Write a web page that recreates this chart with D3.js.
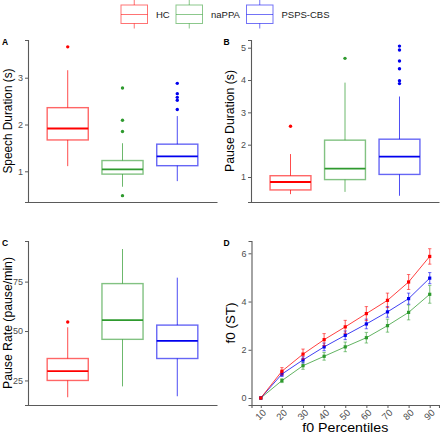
<!DOCTYPE html>
<html><head><meta charset="utf-8">
<script src="https://cdn.jsdelivr.net/npm/d3@7"></script>
<style>
body{margin:0;background:#fff;}
svg{display:block;font-family:"Liberation Sans",Arial,sans-serif;}
</style></head>
<body><svg id="c" width="440" height="433"></svg>
<script>
// ---- data ----
const groups = ["HC", "naPPA", "PSPS-CBS"];
const groupColors = ["#ff0000", "#2e9a2e", "#0000ee"];

// box stats per group: [lower whisker, Q1, median, Q3, upper whisker]
const speechBox = [[1.11, 1.67, 1.915, 2.36, 3.16], [0.67, 0.94, 1.04, 1.23, 1.60], [0.79, 1.12, 1.32, 1.58, 2.18]];
const speechOutliers = [[3.66], [2.78, 2.09, 1.85, 0.48], [2.88, 2.66, 2.58, 2.52, 2.32]];
const speechTicks = [1, 2, 3];

const pauseDurBox = [[0.47, 0.60, 0.845, 1.04, 1.71], [0.54, 0.92, 1.26, 2.14, 3.92], [0.42, 1.08, 1.63, 2.17, 3.49]];
const pauseDurOutliers = [[2.57], [4.67], [5.05, 4.93, 4.59, 4.35, 3.98, 3.89]];
const pauseDurTicks = [1, 2, 3, 4, 5];

const pauseRateBox = [[16.5, 25, 29.7, 36.1, 51.9], [22, 45.8, 55.5, 74, 91.5], [17, 36.1, 45, 53, 77]];
const pauseRateOutliers = [[54.6], [], []];
const pauseRateTicks = [25, 50, 75];

const percentiles = [10, 20, 30, 40, 50, 60, 70, 80, 90];
const f0HC = [0, 1.11, 1.82, 2.42, 2.95, 3.50, 4.05, 4.81, 5.87];
const f0naPPA = [0, 0.72, 1.34, 1.73, 2.12, 2.50, 3.00, 3.55, 4.30];
const f0PSPS = [0, 0.99, 1.58, 2.12, 2.60, 3.07, 3.57, 4.12, 4.97];
const f0HCerr = [0, 0.15, 0.21, 0.25, 0.27, 0.29, 0.30, 0.31, 0.32];
const f0naPPAerr = [0, 0.08, 0.15, 0.16, 0.20, 0.22, 0.27, 0.31, 0.37];
const f0PSPSerr = [0, 0.10, 0.13, 0.16, 0.18, 0.20, 0.22, 0.23, 0.23];
const f0Ticks = [0, 2, 4, 6];

// ---- drawing ----
const svg = d3.select("#c");
const axisColor = "#5a5a5a", tickText = "#4d4d4d";

function styleAxis(g) {
  g.select(".domain").attr("stroke", axisColor).attr("stroke-width", 1.1);
  g.selectAll(".tick line").attr("stroke", axisColor);
  g.selectAll(".tick text").attr("fill", tickText).attr("font-size", 9)
    .attr("font-family", "'Liberation Sans',Arial,sans-serif");
}

function yTitle(tx, cy, txt, len) {
  svg.append("text").attr("transform", `translate(${tx},${cy}) rotate(-90)`)
    .attr("text-anchor", "middle").attr("font-size", 13.5).attr("fill", "#000")
    .attr("textLength", len).attr("lengthAdjust", "spacingAndGlyphs").text(txt);
}

function boxPanel(cfg) {
  const x = d3.scaleBand().domain(groups).range([cfg.x0, cfg.x1]).paddingOuter(0.35).paddingInner(0.25);
  const y = d3.scaleLinear().domain(cfg.ydom).range([cfg.y1, cfg.y0]);
  const g = svg.append("g");
  groups.forEach((grp, i) => {
    const s = cfg.box[i], col = groupColors[i];
    const xl = x(grp), w = x.bandwidth(), xc = xl + w / 2;
    const gg = g.append("g");
    gg.append("line").attr("x1", xc).attr("x2", xc).attr("y1", y(s[3])).attr("y2", y(s[4]))
      .attr("stroke", col).attr("stroke-opacity", 0.7);
    gg.append("line").attr("x1", xc).attr("x2", xc).attr("y1", y(s[0])).attr("y2", y(s[1]))
      .attr("stroke", col).attr("stroke-opacity", 0.7);
    gg.append("rect").attr("x", xl).attr("width", w).attr("y", y(s[3])).attr("height", y(s[1]) - y(s[3]))
      .attr("fill", "none").attr("stroke", col).attr("stroke-opacity", 0.6).attr("stroke-width", 1.4);
    gg.append("line").attr("x1", xl).attr("x2", xl + w).attr("y1", y(s[2])).attr("y2", y(s[2]))
      .attr("stroke", col).attr("stroke-width", 1.8);
    cfg.out[i].forEach(v => {
      gg.append("circle").attr("cx", xc).attr("cy", y(v)).attr("r", 1.7).attr("fill", col);
    });
  });
  const ya = svg.append("g").attr("transform", `translate(${cfg.x0},0)`)
    .call(d3.axisLeft(y).tickValues(cfg.ticks).tickSizeOuter(0).tickSize(3).tickPadding(2).tickFormat(d3.format("d")));
  styleAxis(ya);
  const xa = svg.append("g").attr("transform", `translate(0,${cfg.y1})`)
    .call(d3.axisBottom(x).tickValues([]).tickSizeOuter(0));
  styleAxis(xa);
  yTitle(cfg.tx, (cfg.y0 + cfg.y1) / 2, cfg.title, cfg.tlen);
  svg.append("text").attr("x", cfg.lx).attr("y", cfg.ly).attr("font-size", 8.5).attr("font-weight", "bold").text(cfg.letter);
}

boxPanel({x0: 28, x1: 217, y0: 40, y1: 202, ydom: [0.344, 3.806], box: speechBox, out: speechOutliers,
  ticks: speechTicks, title: "Speech Duration (s)", tlen: 105, tx: 12, letter: "A", lx: 2, ly: 45});
boxPanel({x0: 251, x1: 439, y0: 40, y1: 202, ydom: [0.227, 5.238], box: pauseDurBox, out: pauseDurOutliers,
  ticks: pauseDurTicks, title: "Pause Duration (s)", tlen: 102, tx: 234, letter: "B", lx: 223.5, ly: 45});
boxPanel({x0: 28, x1: 217, y0: 241, y1: 405, ydom: [12.58, 95.55], box: pauseRateBox, out: pauseRateOutliers,
  ticks: pauseRateTicks, title: "Pause Rate (pause/min)", tlen: 132, tx: 12, letter: "C", lx: 2, ly: 246});

// ---- panel D ----
(function () {
  const x0 = 251.5, x1 = 439, y0 = 241, y1 = 405;
  const x = d3.scaleLinear().domain([5.6, 94.4]).range([x0, x1]);
  const y = d3.scaleLinear().domain([-0.29, 6.51]).range([y1, y0]);
  const series = [f0HC, f0naPPA, f0PSPS], errs = [f0HCerr, f0naPPAerr, f0PSPSerr];
  const line = d3.line().x((d, i) => x(percentiles[i])).y(d => y(d));
  [1, 2, 0].forEach(k => {
    const col = groupColors[k];
    const g = svg.append("g");
    g.append("path").attr("d", line(series[k])).attr("fill", "none").attr("stroke", col)
      .attr("stroke-width", 1).attr("stroke-opacity", 0.75);
    series[k].forEach((v, i) => {
      const e = errs[k][i], xc = x(percentiles[i]);
      if (e > 0) {
        g.append("line").attr("x1", xc).attr("x2", xc).attr("y1", y(v - e)).attr("y2", y(v + e))
          .attr("stroke", col).attr("stroke-opacity", 0.55).attr("stroke-width", 1.2);
        [v - e, v + e].forEach(t => g.append("line").attr("x1", xc - 1.7).attr("x2", xc + 1.7)
          .attr("y1", y(t)).attr("y2", y(t)).attr("stroke", col).attr("stroke-opacity", 0.55));
      }
      g.append("rect").attr("x", xc - 1.6).attr("y", y(v) - 1.6).attr("width", 3.2).attr("height", 3.2).attr("fill", col);
    });
  });
  const ya = svg.append("g").attr("transform", `translate(${x0},0)`)
    .call(d3.axisLeft(y).tickValues(f0Ticks).tickSizeOuter(0).tickSize(3).tickPadding(2).tickFormat(d3.format("d")));
  styleAxis(ya);
  const xa = svg.append("g").attr("transform", `translate(0,${y1})`)
    .call(d3.axisBottom(x).tickValues(percentiles).tickSizeOuter(0).tickSize(3).tickPadding(2).tickFormat(d3.format("d")));
  styleAxis(xa);
  xa.selectAll(".tick text").attr("text-anchor", "end").attr("x", 0).attr("y", 0).attr("dy", "0.35em")
    .attr("font-size", 9.5).attr("transform", "translate(3,6) rotate(-45)");
  yTitle(235, (y0 + y1) / 2, "f0 (ST)", 41);
  svg.append("text").attr("x", (x0 + x1) / 2).attr("y", 431.5).attr("text-anchor", "middle")
    .attr("font-size", 12.5).attr("textLength", 86).attr("lengthAdjust", "spacingAndGlyphs").text("f0 Percentiles");
  svg.append("text").attr("x", 223.5).attr("y", 246).attr("font-size", 8.5).attr("font-weight", "bold").text("D");
})();

// ---- legend ----
(function () {
  const keyX = [121, 176, 246.5], labX = [156, 211, 281.5];
  groups.forEach((grp, i) => {
    const col = groupColors[i], kx = keyX[i];
    const g = svg.append("g");
    g.append("rect").attr("x", kx).attr("y", 5).attr("width", 26.5).attr("height", 18.5)
      .attr("fill", "none").attr("stroke", col).attr("stroke-opacity", 0.55);
    g.append("line").attr("x1", kx).attr("x2", kx + 26.5).attr("y1", 14.5).attr("y2", 14.5)
      .attr("stroke", col).attr("stroke-opacity", 0.55);
    g.append("line").attr("x1", kx + 13.25).attr("x2", kx + 13.25).attr("y1", 0).attr("y2", 5)
      .attr("stroke", col).attr("stroke-opacity", 0.55);
    g.append("line").attr("x1", kx + 13.25).attr("x2", kx + 13.25).attr("y1", 23.5).attr("y2", 28.5)
      .attr("stroke", col).attr("stroke-opacity", 0.55);
    g.append("text").attr("x", labX[i]).attr("y", 18).attr("font-size", 9.5).attr("fill", "#1a1a1a").text(grp);
  });
})();
</script></body></html>
